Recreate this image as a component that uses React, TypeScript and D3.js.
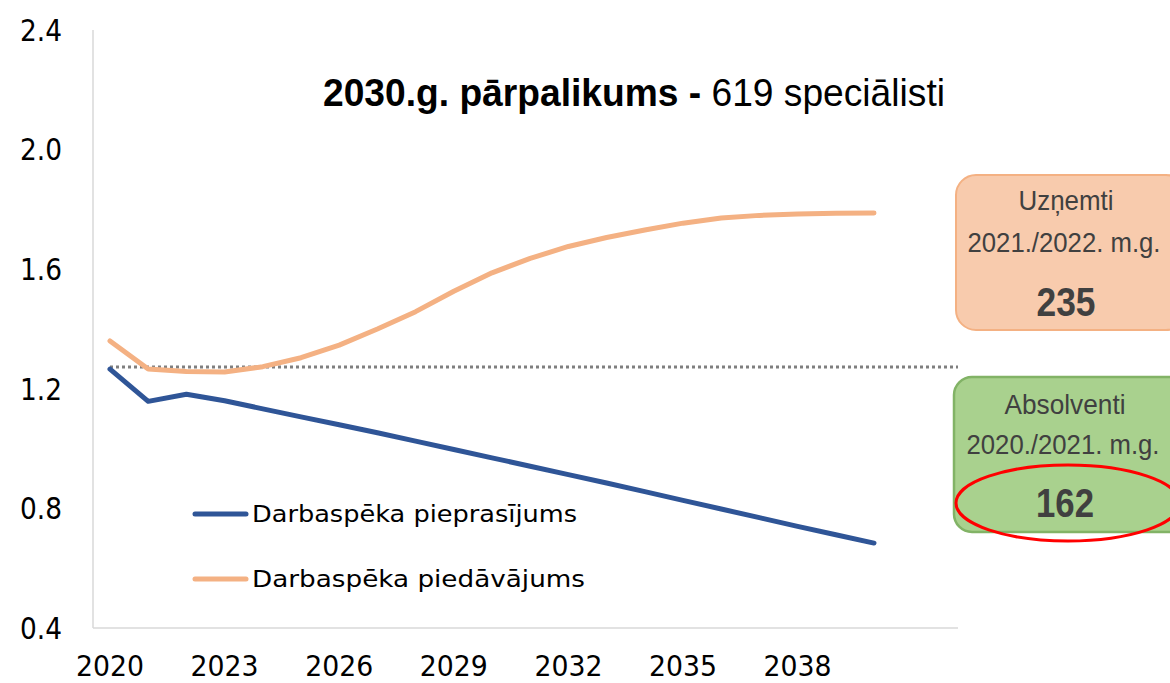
import React from "react";
import * as d3 from "d3";

const years = d3.range(2020, 2041);
const demand = [1.266, 1.158, 1.182, 1.160, 1.133, 1.106, 1.080, 1.053, 1.025, 0.997, 0.969, 0.941, 0.913, 0.885, 0.856, 0.827, 0.798, 0.769, 0.740, 0.712, 0.684];
const supply = [1.360, 1.266, 1.258, 1.256, 1.274, 1.304, 1.346, 1.400, 1.458, 1.526, 1.588, 1.636, 1.676, 1.706, 1.731, 1.754, 1.771, 1.780, 1.785, 1.787, 1.788];
const yTicks = [0.4, 0.8, 1.2, 1.6, 2.0, 2.4];
const xTicks = [2020, 2023, 2026, 2029, 2032, 2035, 2038];
const refLevel = 1.273;
const seriesNames = ["Darbaspēka pieprasījums", "Darbaspēka piedāvājums"];
const titleBold = "2030.g. pārpalikums - ";
const titleNormal = "619 speciālisti";
const box1 = ["Uzņemti", "2021./2022. m.g.", "235"];
const box2 = ["Absolventi", "2020./2021. m.g.", "162"];

const BLUE = "#2F5597";
const ORANGE = "#F4B183";
const TICKFONT = "'DejaVu Sans', sans-serif";
const NARROW = "'Liberation Sans Narrow', 'Liberation Sans', Arial, sans-serif";

export default function App() {
  const x = d3.scaleLinear().domain([2020, 2040]).range([110, 874]);
  const y = d3.scaleLinear().domain([0.4, 2.4]).range([628, 30]);
  const line = d3
    .line<number>()
    .x((_, i) => x(years[i]))
    .y((d) => y(d))
    .curve(d3.curveLinear);

  return (
    <svg
      width={1170}
      height={683}
      style={{ position: "absolute", left: 0, top: 0, background: "#fff" }}
    >
      {/* axes */}
      <line x1={93} x2={93} y1={y(2.4)} y2={y(0.4)} stroke="#d9d9d9" strokeWidth={1.5} />
      <line x1={93} x2={958} y1={y(0.4)} y2={y(0.4)} stroke="#d9d9d9" strokeWidth={1.5} />
      {yTicks.map((t) => (
        <text
          key={t}
          x={62}
          y={y(t)}
          dy="0.36em"
          textAnchor="end"
          fontFamily={TICKFONT}
          fontSize={30}
          fill="#000"
          textLength={42}
          lengthAdjust="spacingAndGlyphs"
        >
          {t.toFixed(1)}
        </text>
      ))}
      {xTicks.map((t) => (
        <text
          key={t}
          x={x(t)}
          y={676}
          textAnchor="middle"
          fontFamily={TICKFONT}
          fontSize={28}
          fill="#000"
          textLength={68}
          lengthAdjust="spacingAndGlyphs"
        >
          {t}
        </text>
      ))}

      {/* reference dotted line */}
      <line
        x1={x(2020)}
        x2={958}
        y1={y(refLevel)}
        y2={y(refLevel)}
        stroke="#7f7f7f"
        strokeWidth={3}
        strokeDasharray="3,3"
      />

      {/* series */}
      <path d={line(supply) || ""} fill="none" stroke={ORANGE} strokeWidth={5} strokeLinecap="round" strokeLinejoin="round" />
      <path d={line(demand) || ""} fill="none" stroke={BLUE} strokeWidth={5} strokeLinecap="round" strokeLinejoin="round" />

      {/* legend */}
      {[BLUE, ORANGE].map((c, i) => (
        <g key={i} transform={`translate(0, ${514 + i * 65})`}>
          <line x1={195} x2={246} y1={0} y2={0} stroke={c} strokeWidth={5} strokeLinecap="round" />
          <text
            x={252}
            y={0}
            dy="0.36em"
            fontFamily={TICKFONT}
            fontSize={23}
            fill="#000"
            textLength={i === 0 ? 325 : 333}
            lengthAdjust="spacingAndGlyphs"
          >
            {seriesNames[i]}
          </text>
        </g>
      ))}

      {/* title */}
      <text
        x={323}
        y={106}
        fontFamily={NARROW}
        fontSize={39}
        fill="#000"
        textLength={622}
        lengthAdjust="spacingAndGlyphs"
      >
        <tspan fontWeight="bold">{titleBold}</tspan>
        <tspan>{titleNormal}</tspan>
      </text>

      {/* boxes */}
      <rect x={956} y={175} width={230} height={155} rx={20} ry={20} fill="#F8CBAD" stroke="#F4B183" strokeWidth={2} />
      <text x={1066} y={210} textAnchor="middle" fontFamily={NARROW} fontSize={28} fill="#404040" textLength={95} lengthAdjust="spacingAndGlyphs">{box1[0]}</text>
      <text x={1064} y={252} textAnchor="middle" fontFamily={NARROW} fontSize={27} fill="#404040" textLength={193} lengthAdjust="spacingAndGlyphs">{box1[1]}</text>
      <text x={1066} y={316} textAnchor="middle" fontFamily={NARROW} fontSize={41} fontWeight="bold" fill="#404040" textLength={59} lengthAdjust="spacingAndGlyphs">{box1[2]}</text>

      <rect x={954} y={377} width={232} height={155} rx={18} ry={18} fill="#A9D18E" stroke="#82B366" strokeWidth={2.5} />
      <text x={1065} y={414} textAnchor="middle" fontFamily={NARROW} fontSize={28} fill="#404040" textLength={121} lengthAdjust="spacingAndGlyphs">{box2[0]}</text>
      <text x={1063} y={454} textAnchor="middle" fontFamily={NARROW} fontSize={27} fill="#404040" textLength={193} lengthAdjust="spacingAndGlyphs">{box2[1]}</text>
      <text x={1065} y={517} textAnchor="middle" fontFamily={NARROW} fontSize={41} fontWeight="bold" fill="#404040" textLength={58} lengthAdjust="spacingAndGlyphs">{box2[2]}</text>
      <ellipse cx={1068} cy={503} rx={112} ry={38} fill="none" stroke="#FF0000" strokeWidth={3} />
    </svg>
  );
}
